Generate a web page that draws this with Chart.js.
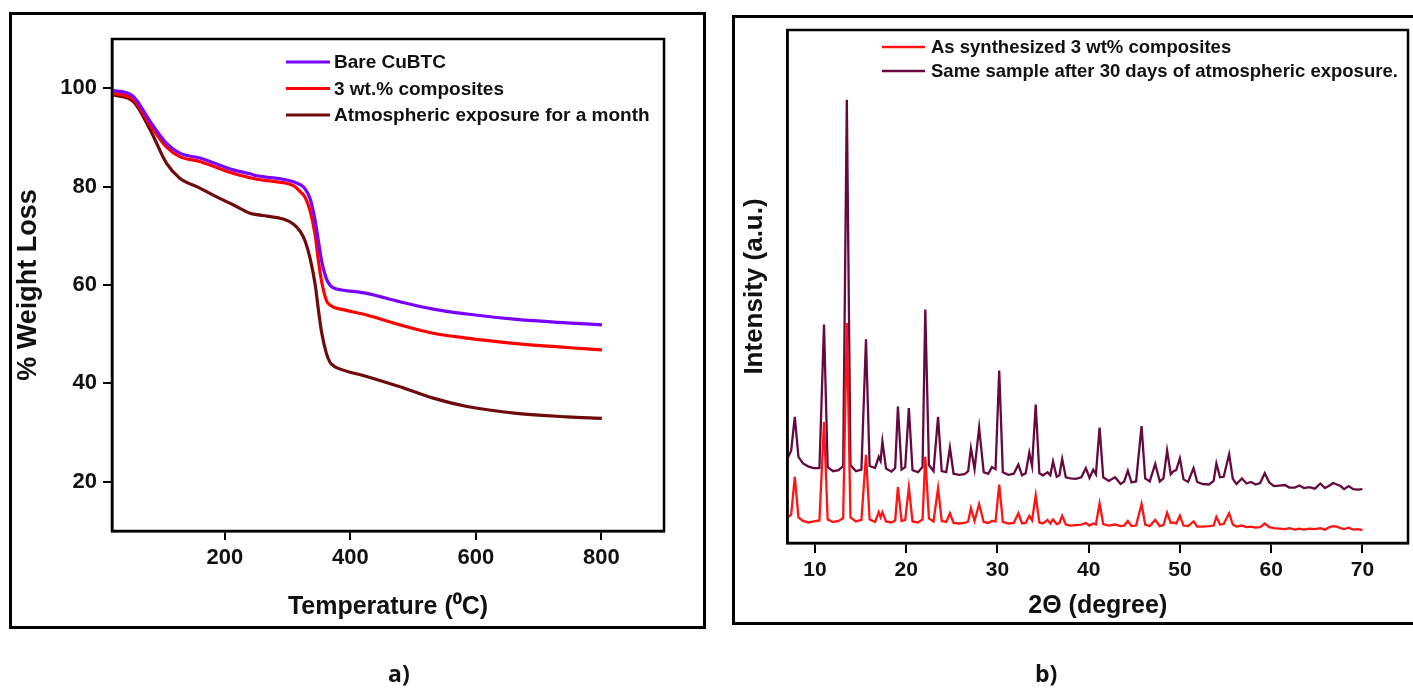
<!DOCTYPE html>
<html>
<head>
<meta charset="utf-8">
<script src="https://cdn.jsdelivr.net/npm/chart.js@4.4.1/dist/chart.umd.min.js"></script>
<style>
html,body{margin:0;padding:0;background:#fff;width:1413px;height:690px;overflow:hidden;position:relative;}
#frameA{position:absolute;left:9px;top:12px;width:691px;height:611px;border:3px solid #000;}
#frameB{position:absolute;left:732px;top:15px;width:700px;height:604px;border:3px solid #000;}
#cA{position:absolute;left:0;top:0;}
#cB{position:absolute;left:720px;top:0;}
.lab{position:absolute;top:657px;font-family:"Open Sans","Liberation Sans",sans-serif;font-weight:700;font-size:23px;color:#111;}
</style>
</head>
<body>
<div id="frameA"></div>
<div id="frameB"></div>
<canvas id="cA" width="720" height="690"></canvas>
<canvas id="cB" width="693" height="690"></canvas>
<div class="lab" style="left:388px;">a)</div>
<div class="lab" style="left:1035px;">b)</div>
<script>
// ---------- Panel a) TGA data ----------
const tgaTemp = [22, 54, 81, 107, 128, 160, 187, 213, 240, 251, 267, 293, 309, 320, 328, 336, 344, 349, 354, 362, 368, 373, 378, 426, 479, 532, 586, 665, 745, 801];
const tgaBare = [99.6, 98.3, 93.2, 88.8, 86.8, 85.8, 84.6, 83.4, 82.6, 82.2, 81.9, 81.5, 81.0, 80.4, 79.5, 77.5, 73.0, 69.0, 65.0, 61.2, 59.9, 59.4, 59.2, 58.3, 56.6, 55.1, 54.1, 53.0, 52.3, 51.9];
const tgaComposite = [99.0, 97.7, 92.5, 88.0, 86.1, 85.1, 83.9, 82.7, 81.8, 81.5, 81.2, 80.8, 80.2, 79.0, 77.8, 75.0, 70.0, 65.0, 60.8, 56.8, 55.9, 55.5, 55.3, 53.9, 51.9, 50.2, 49.2, 48.1, 47.3, 46.8];
const tgaExposed = [98.6, 97.3, 91.5, 84.7, 81.7, 79.7, 77.9, 76.3, 74.6, 74.3, 74.0, 73.4, 72.4, 70.9, 68.9, 65.3, 60.0, 55.0, 50.5, 46.0, 44.2, 43.6, 43.2, 41.4, 39.3, 37.0, 35.3, 33.9, 33.2, 32.9];
const tgaXTicks = [200, 400, 600, 800];
const tgaYTicks = [20, 40, 60, 80, 100];
const tgaLabels = ['Bare CuBTC', '3 wt.% composites', 'Atmospheric exposure for a month'];

// ---------- Panel b) XRD data ----------
const xrdTheta = [
  7.0,7.4,7.8,8.2,8.7,9.3,9.9,10.5,11.0,11.4,
  12.0,12.6,13.1,13.5,13.9,14.5,15.1,15.6,16.0,16.6,
  17.0,17.2,17.4,17.8,18.4,18.8,19.1,19.5,19.9,20.3,
  20.7,21.3,21.8,22.1,22.5,23.0,23.5,23.9,24.4,24.8,
  25.2,25.8,26.4,26.8,27.1,27.5,28.0,28.5,29.0,29.4,
  29.8,30.2,30.6,31.2,31.8,32.3,32.7,33.1,33.5,33.8,
  34.2,34.6,35.0,35.5,35.8,36.1,36.5,36.8,37.1,37.5,
  38.0,38.6,39.2,39.7,40.1,40.5,40.8,41.2,41.6,42.2,
  42.9,43.5,43.9,44.3,44.7,45.2,45.8,46.2,46.7,47.3,
  47.8,48.2,48.6,49.0,49.3,49.6,50.0,50.4,50.9,51.5,
  51.9,52.5,53.2,53.7,54.0,54.4,54.8,55.4,55.8,56.2,
  56.8,57.3,57.8,58.3,58.8,59.3,59.8,60.3,60.9,61.5,
  62.0,62.6,63.1,63.6,64.2,64.8,65.4,65.9,66.4,66.8,
  67.2,67.6,68.0,68.5,69.0,69.5,70.0
];
const xrdAsSynthesized = [
  5.0,5.5,12.9,5.0,4.3,4.0,4.2,4.4,23.6,4.6,
  4.1,4.3,4.8,42.9,5.0,4.2,4.5,17.2,4.6,4.1,
  6.0,5.0,6.0,4.2,4.0,4.4,10.9,4.3,4.5,10.8,
  4.2,4.0,4.6,16.8,4.8,4.2,10.7,4.3,4.1,5.8,
  3.9,3.8,3.9,4.2,6.8,4.3,7.6,4.1,3.9,4.3,
  4.2,11.4,4.1,3.8,3.9,5.8,3.8,3.9,5.3,4.4,
  9.3,4.0,3.8,4.5,3.8,4.6,3.7,3.9,5.3,3.6,
  3.4,3.5,3.6,3.9,3.4,3.8,3.6,7.7,3.7,3.4,
  3.6,3.3,3.4,4.3,3.3,3.4,7.6,3.6,3.3,4.5,
  3.3,3.5,5.9,3.9,4.0,3.8,5.3,3.4,3.3,4.2,
  3.2,3.2,3.3,3.4,5.1,3.6,3.7,5.8,3.6,3.2,
  3.4,3.1,3.2,3.0,3.1,3.8,3.1,2.9,2.8,2.7,
  2.9,2.6,2.8,2.6,2.8,2.7,2.9,2.6,3.1,3.3,
  3.2,2.9,2.7,3.0,2.6,2.7,2.5
];
const xrdAfter30Days = [
  16.5,18.0,24.6,16.8,15.5,14.9,14.6,14.6,42.6,14.8,
  14.0,14.2,15.0,86.4,15.2,14.0,14.3,39.7,15.0,14.6,
  16.8,16.0,19.8,14.5,13.9,14.6,26.6,14.3,14.8,26.3,
  14.2,13.8,14.8,45.5,15.2,14.0,24.6,14.0,13.8,18.6,
  13.5,13.3,13.4,14.0,18.5,14.4,22.5,13.8,13.5,14.8,
  14.4,33.6,13.8,13.3,13.5,15.3,13.2,13.6,17.6,15.0,
  27.0,13.6,13.2,13.8,13.2,15.9,12.9,13.2,16.4,12.8,
  12.6,12.5,12.8,14.6,12.7,14.3,13.4,22.5,12.8,12.1,
  12.8,11.5,12.0,14.1,11.8,12.0,22.8,12.6,12.0,15.4,
  12.0,12.6,18.0,13.4,14.0,14.2,16.5,12.4,11.9,14.6,
  11.9,11.5,11.4,12.1,15.5,12.8,12.9,17.3,12.5,11.5,
  12.6,11.6,11.9,11.4,11.7,13.6,11.8,11.1,11.2,11.3,
  10.8,10.8,11.2,10.7,10.9,10.6,11.6,10.7,11.2,11.7,
  11.4,11.1,10.5,11.1,10.5,10.4,10.5
];
const xrdXTicks = [10, 20, 30, 40, 50, 60, 70];
const xrdLabels = ['As synthesized 3 wt% composites', 'Same sample after 30 days of atmospheric exposure.'];

// ---------- helpers ----------
const FONT = '"Liberation Sans", Arial, sans-serif';
const TXT = '#111';
const pts = (xs, ys) => xs.map((x, i) => ({x: x, y: ys[i]}));

const boxPlugin = {
  id: 'boxPlugin',
  afterDatasetsDraw(chart, args, o) {
    const {ctx, chartArea: a} = chart;
    ctx.save();
    ctx.strokeStyle = '#000';
    ctx.lineWidth = o.width || 2.5;
    ctx.strokeRect(a.left, a.top, a.right - a.left, a.bottom - a.top);
    ctx.restore();
  }
};
const lineLegend = {
  id: 'lineLegend',
  afterDraw(chart, args, o) {
    if (!o || o.x === undefined) return;
    const ctx = chart.ctx;
    ctx.save();
    ctx.font = o.font;
    ctx.textBaseline = 'middle';
    ctx.fillStyle = TXT;
    chart.data.datasets.forEach((ds, i) => {
      const y = o.y + i * o.gap;
      ctx.strokeStyle = ds.borderColor;
      ctx.lineWidth = o.lineWidth;
      ctx.beginPath();
      ctx.moveTo(o.x, y);
      ctx.lineTo(o.x + o.len, y);
      ctx.stroke();
      ctx.fillText(ds.label, o.x + o.len + o.textGap, y + 1);
    });
    ctx.restore();
  }
};
Chart.register(boxPlugin, lineLegend);

function axisCommon(extra) {
  return Object.assign({
    type: 'linear',
    grid: {display: true, drawOnChartArea: false, drawTicks: true, tickLength: 9, color: '#000', lineWidth: 2},
    border: {display: true, color: '#000', width: 2.5},
  }, extra);
}

// ---------- Chart a) ----------
new Chart(document.getElementById('cA'), {
  type: 'line',
  data: {
    datasets: [
      {label: tgaLabels[0], data: pts(tgaTemp, tgaBare), borderColor: '#7A00FF', borderWidth: 3.2},
      {label: tgaLabels[1], data: pts(tgaTemp, tgaComposite), borderColor: '#FF0000', borderWidth: 3.2},
      {label: tgaLabels[2], data: pts(tgaTemp, tgaExposed), borderColor: '#6E0A0A', borderWidth: 3.2}
    ]
  },
  options: {
    responsive: false, animation: false, devicePixelRatio: 1,
    layout: {padding: {left: 12, right: 56, top: 39, bottom: 65}},
    elements: {point: {radius: 0}, line: {tension: 0.4, cubicInterpolationMode: 'monotone'}},
    plugins: {
      legend: {display: false}, tooltip: {enabled: false},
      boxPlugin: {width: 2.5},
      lineLegend: {x: 286, y: 62, gap: 26.5, len: 44, textGap: 4, lineWidth: 3.2, font: 'bold 19px ' + FONT}
    },
    scales: {
      x: axisCommon({
        min: 20, max: 900,
        afterBuildTicks: s => { s.ticks = tgaXTicks.map(v => ({value: v})); },
        afterFit: s => { s.height = 94; },
        ticks: {color: TXT, font: {family: FONT, size: 22, weight: 'bold'}, padding: 5, maxRotation: 0, autoSkip: false},
        title: {display: true, text: 'Temperature (\u2070C)', color: TXT, font: {family: FONT, size: 25, weight: 'bold'}, padding: {top: 0, bottom: 3}}
      }),
      y: axisCommon({
        min: 10, max: 110,
        afterBuildTicks: s => { s.ticks = tgaYTicks.map(v => ({value: v})); },
        afterFit: s => { s.width = 100; },
        ticks: {color: TXT, font: {family: FONT, size: 22, weight: 'bold'}, padding: 6, autoSkip: false},
        title: {display: true, text: '% Weight Loss', color: TXT, font: {family: FONT, size: 27, weight: 'bold'}, padding: {top: 0, bottom: 0}}
      })
    }
  }
});

// ---------- Chart b) ----------
new Chart(document.getElementById('cB'), {
  type: 'line',
  data: {
    datasets: [
      {label: xrdLabels[0], data: pts(xrdTheta, xrdAsSynthesized), borderColor: '#FF1414', borderWidth: 2.3},
      {label: xrdLabels[1], data: pts(xrdTheta, xrdAfter30Days), borderColor: '#650A40', borderWidth: 2.3}
    ]
  },
  options: {
    responsive: false, animation: false, devicePixelRatio: 1,
    layout: {padding: {left: 17.5, right: 5, top: 30, bottom: 65}},
    elements: {point: {radius: 0}, line: {tension: 0}},
    plugins: {
      legend: {display: false}, tooltip: {enabled: false},
      boxPlugin: {width: 2.5},
      lineLegend: {x: 162, y: 47, gap: 24, len: 43, textGap: 6, lineWidth: 2.6, font: 'bold 18.5px ' + FONT}
    },
    scales: {
      x: axisCommon({
        min: 7, max: 75,
        afterBuildTicks: s => { s.ticks = xrdXTicks.map(v => ({value: v})); },
        afterFit: s => { s.height = 82; },
        grid: {display: true, drawOnChartArea: false, drawTicks: true, tickLength: 10, color: '#000', lineWidth: 2},
        ticks: {color: TXT, font: {family: FONT, size: 21, weight: 'bold'}, padding: 5, maxRotation: 0, autoSkip: false},
        title: {display: true, text: '2\u0398 (degree)', color: TXT, font: {family: FONT, size: 25, weight: 'bold'}, padding: {top: 0, bottom: 4}}
      }),
      y: axisCommon({
        min: 0, max: 100,
        afterFit: s => { s.width = 50; },
        grid: {display: true, drawOnChartArea: false, drawTicks: false, color: '#000', lineWidth: 2},
        ticks: {display: false},
        title: {display: true, text: 'Intensity (a.u.)', color: TXT, font: {family: FONT, size: 26, weight: 'bold'}, padding: {top: 2, bottom: 0}}
      })
    }
  }
});
</script>
</body>
</html>
